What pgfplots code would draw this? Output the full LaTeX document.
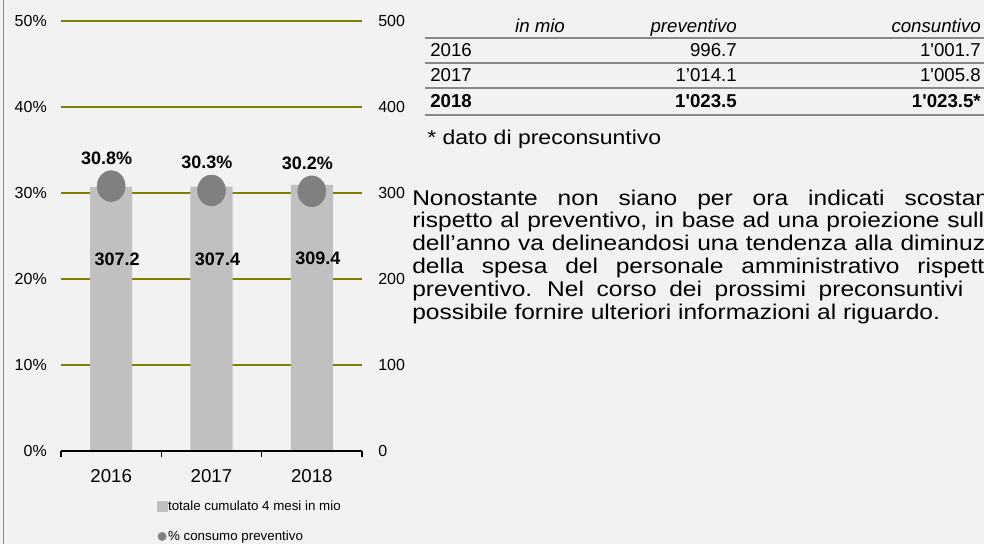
\documentclass[border=0pt]{standalone}
\usepackage{fontspec}
\setmainfont{Liberation Sans}
\newfontfamily\widefont{Liberation Sans}[FakeStretch=1.15]
\usepackage{textcomp}
\usepackage{pgfplots}
\pgfplotsset{compat=1.18}

\definecolor{bgc}{HTML}{F2F2F2}
\definecolor{barc}{HTML}{C0C0C0}
\definecolor{dotc}{HTML}{808080}
\definecolor{gridc}{HTML}{808000}
\definecolor{rulec}{HTML}{888888}

\newcommand{\fs}[1]{\fontsize{#1}{#1}\selectfont}

\begin{document}
\begin{tikzpicture}[x=0.75pt,y=0.75pt]
\fill[bgc] (0,0) rectangle (984,544);
\begin{scope}
\clip (0,0) rectangle (984,544);
\draw[rulec, line width=1.1pt] (3.5,0) -- (3.5,544);

% bars on the right scale
\begin{axis}[
    at={(45.75pt,69.75pt)}, anchor=south west,
    scale only axis, width=225.75pt, height=322.5pt,
    xmin=-0.5, xmax=2.5, ymin=0, ymax=500,
    axis line style={draw=none},
    xtick=\empty,
    ytick={0,100,...,500},
    yticklabel pos=right,
    major tick length=0pt,
    ymajorgrids, grid style={gridc, line width=1.5pt},
    yticklabel style={font=\fs{12}, inner sep=0pt, xshift=12pt, anchor=west},
    /pgf/number format/assume math mode=true,
]
\addplot[ybar, bar width=31.5pt, fill=barc, draw=none,
    nodes near coords,
    nodes near coords style={font=\bfseries\fs{13.5}, text=black, anchor=center,
        yshift=-54.75pt, xshift=4.5pt,
        /pgf/number format/.cd, fixed, fixed zerofill, precision=1, assume math mode=true}]
    coordinates {(0,307.2) (1,307.4) (2,309.4)};
\end{axis}

% percent scale, dots, x axis, legend
\begin{axis}[
    at={(45.75pt,69.75pt)}, anchor=south west,
    scale only axis, width=225.75pt, height=322.5pt,
    xmin=-0.5, xmax=2.5, ymin=0, ymax=50,
    axis line style={draw=none},
    xtick={0,1,2}, xticklabels={2016,2017,2018},
    minor xtick={-0.5,0.5,1.5,2.5},
    xtick pos=bottom, ytick pos=left,
    major tick length=0pt, minor tick length=4.5pt, tick align=outside,
    minor tick style={black, line width=1.2pt},
    xticklabel style={font=\fs{14}, inner sep=0pt, yshift=-13.5pt},
    ytick={0,10,...,50},
    yticklabels={0\%,10\%,20\%,30\%,40\%,50\%},
    yticklabel style={font=\fs{12}, inner sep=0pt, xshift=-10.5pt, anchor=east},
    extra description/.code={\draw[black, line width=1.5pt] (rel axis cs:0,0) -- (rel axis cs:1,0);},
    legend style={at={(0.319,-0.112)}, anchor=north west, draw=none, fill=none,
        font=\fs{10}, row sep=12pt, inner sep=0pt,
        nodes={inner sep=0.5pt, text height=7.5pt, text depth=2pt}},
    legend cell align=left,
    /pgf/number format/assume math mode=true,
]
\addlegendimage{legend image code/.code={\fill[barc] (0pt,-3.6pt) rectangle (7.2pt,3.6pt);}}
\addlegendentry{totale cumulato 4 mesi in mio}
\addlegendimage{legend image code/.code={\fill[dotc] (3.4pt,0pt) circle (3.1pt);}}
\addlegendentry{\% consumo preventivo}
\addplot[only marks, mark=*, mark size=10.5pt, color=dotc, mark options={yscale=1.1},
    nodes near coords={\pgfmathprintnumber{\pgfplotspointmeta}\%},
    nodes near coords style={font=\bfseries\fs{13.5}, text=black, anchor=center,
        yshift=21pt, xshift=-3.4pt,
        /pgf/number format/.cd, fixed, fixed zerofill, precision=1, assume math mode=true},
    forget plot]
    coordinates {(0,30.8) (1,30.3) (2,30.2)};
\end{axis}

% table
\begin{scope}[every node/.style={inner sep=0pt, font=\fs{14}}]
\node[anchor=base] at (540,511) {\itshape in mio};
\node[anchor=base east] at (737,511) {\itshape preventivo};
\node[anchor=base east] at (981,511) {\itshape consuntivo};
\node[anchor=base west] at (430,488) {2016};
\node[anchor=base east] at (737,488) {996.7};
\node[anchor=base east] at (981,488) {1\textquotesingle 001.7};
\node[anchor=base west] at (430,463) {2017};
\node[anchor=base east] at (737,463) {1’014.1};
\node[anchor=base east] at (981,463) {1\textquotesingle 005.8};
\node[anchor=base west] at (430,437) {\bfseries 2018};
\node[anchor=base east] at (737,437) {\bfseries 1\textquotesingle 023.5};
\node[anchor=base east] at (981,437) {\bfseries 1\textquotesingle 023.5*};
\end{scope}
\foreach \yy in {506,481,456,429} \draw[rulec, line width=1.5pt] (425,\yy) -- (990,\yy);

\node[anchor=base west, inner sep=0pt, font=\widefont\fs{15}] at (427,400) {* dato di preconsuntivo};

% paragraph, one line at a time (justified in the source, cut at the right edge)
\begin{scope}[every node/.style={anchor=base west, inner sep=0pt, font=\widefont\fs{16}}]
\node at (412,339) {\spaceskip=15pt Nonostante non siano per ora indicati scostamenti};
\node at (412,316.2) {\spaceskip=5.8pt rispetto al preventivo, in base ad una proiezione sull’andamento};
\node at (412,293.4) {\spaceskip=5.8pt dell’anno va delineandosi una tendenza alla diminuzione};
\node at (412,270.6) {\spaceskip=13.4pt della spesa del personale amministrativo rispetto al};
\node at (412,247.8) {\spaceskip=9.5pt preventivo. Nel corso dei prossimi preconsuntivi\hspace{22pt}sarà};
\node at (412,225) {possibile fornire ulteriori informazioni al riguardo.};
\end{scope}
\end{scope}
\pgfresetboundingbox
\useasboundingbox (0,0) rectangle (984,544);
\end{tikzpicture}
\end{document}
